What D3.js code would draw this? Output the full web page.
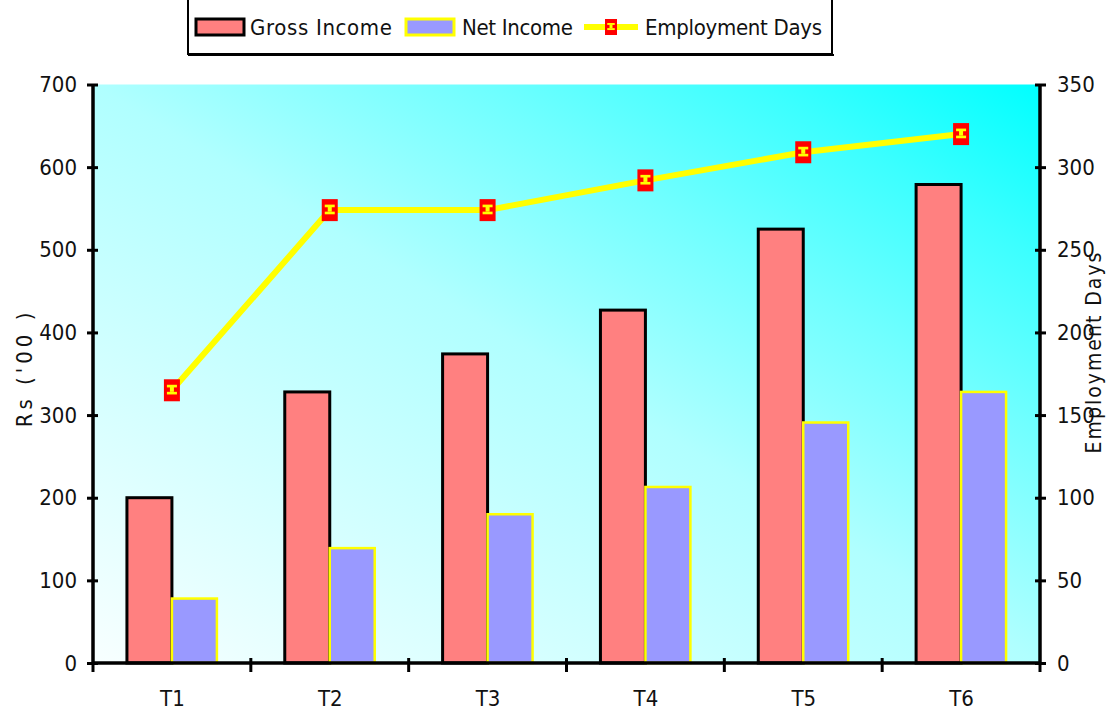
<!DOCTYPE html>
<html><head><meta charset="utf-8">
<script src="https://cdn.jsdelivr.net/npm/d3@7"></script>
<style>
html,body{margin:0;padding:0;background:#fff;}
svg{display:block;}
text{font-family:"Liberation Sans Narrow","Arial Narrow","DejaVu Sans Condensed",sans-serif;fill:#111;}
</style></head>
<body>
<svg id="chart" width="1108" height="713"></svg>
<script>
const categories = ["T1","T2","T3","T4","T5","T6"];
const grossIncome = [200, 328, 374, 427, 525, 579];
const netIncome = [78, 139, 180, 213, 291, 328];
const employmentDays = [165, 274, 274, 292, 309, 320];
const leftTicks = [0,100,200,300,400,500,600,700];
const rightTicks = [0,50,100,150,200,250,300,350];
const seriesNames = ["Gross Income","Net Income","Employment Days"];

const svg = d3.select("#chart");
const L = 93, R = 1040, T = 84.5, B = 663;

const x0 = d3.scaleBand().domain(categories).range([L, R]).paddingInner(0.43).paddingOuter(0.215);
const x1 = d3.scaleBand().domain(["gross","net"]).range([0, x0.bandwidth()]);
const xc = d3.scalePoint().domain(categories).range([L, R]).padding(0.5);
const xEdge = d3.scaleLinear().domain([0, categories.length]).range([L, R]);
const yL = d3.scaleLinear().domain([0, 700]).range([B, T]);
const yR = d3.scaleLinear().domain([0, 350]).range([B, T]);

// gradient background
const defs = svg.append("defs");
const g = defs.append("linearGradient").attr("id","bg").attr("x1",0).attr("y1",1).attr("x2",1).attr("y2",0);
[[0,"#f8ffff"],[0.5,"#b0ffff"],[0.7,"#70ffff"],[0.85,"#3cffff"],[1,"#00ffff"]].forEach(s=>g.append("stop").attr("offset",s[0]).attr("stop-color",s[1]));
svg.append("rect").attr("x",L).attr("y",T).attr("width",R-L).attr("height",B-T).attr("fill","url(#bg)");

// bars
const grp = svg.append("g").selectAll("g").data(categories).join("g")
  .attr("transform", d => `translate(${x0(d)},0)`);
grp.append("rect")
  .attr("x", x1("gross")).attr("width", x1.bandwidth())
  .attr("y", (d,i)=>yL(grossIncome[i])).attr("height",(d,i)=>B-yL(grossIncome[i]))
  .attr("fill","#ff8080").attr("stroke","#000").attr("stroke-width",3);
grp.append("rect")
  .attr("x", x1("net")).attr("width", x1.bandwidth())
  .attr("y", (d,i)=>yL(netIncome[i])).attr("height",(d,i)=>B-yL(netIncome[i]))
  .attr("fill","#9999ff").attr("stroke","#ffff00").attr("stroke-width",2.5);

// line
const line = d3.line().x((d,i)=>xc(categories[i])).y(d=>yR(d));
svg.append("path").datum(employmentDays).attr("d",line)
  .attr("fill","none").attr("stroke","#ffff00").attr("stroke-width",6);

function marker(sel, w, h){
  sel.append("rect").attr("x",-w/2).attr("y",-h/2).attr("width",w).attr("height",h).attr("fill","#ff0000");
  const s = w/16;
  sel.append("rect").attr("x",-5*s).attr("y",-h/2+h*0.25).attr("width",10*s).attr("height",h*0.12).attr("fill","#ffff00");
  sel.append("rect").attr("x",-2*s).attr("y",-h/2+h*0.35).attr("width",4*s).attr("height",h*0.22).attr("fill","#ffff00");
  sel.append("rect").attr("x",-5*s).attr("y",-h/2+h*0.57).attr("width",10*s).attr("height",h*0.12).attr("fill","#ffff00");
}
svg.append("g").selectAll("g").data(employmentDays).join("g")
  .attr("transform",(d,i)=>`translate(${xc(categories[i])},${yR(d)})`)
  .each(function(){ marker(d3.select(this),16,22); });

// axes
const axL = svg.append("g").attr("transform",`translate(${L},0)`)
  .call(d3.axisLeft(yL).tickValues(leftTicks).tickSize(5).tickFormat(d3.format("d")));
const axR = svg.append("g").attr("transform",`translate(${R},0)`)
  .call(d3.axisRight(yR).tickValues(rightTicks).tickSize(5).tickFormat(d3.format("d")));
const axB = svg.append("g").attr("transform",`translate(0,${B})`)
  .call(d3.axisBottom(xc).tickSize(0).tickPadding(0));
[axL,axR,axB].forEach(a=>{
  a.select(".domain").attr("stroke","#000").attr("stroke-width",3.5);
  a.selectAll(".tick line").attr("stroke","#000").attr("stroke-width",3);
  a.selectAll("text").attr("fill","#111").style("font-size","22px");
});
axL.select(".domain").attr("d",`M0,${T}V${B}`);
axR.select(".domain").attr("d",`M0,${T}V${B}`);
axB.select(".domain").attr("d",`M${L},0H${R}`);
axL.selectAll(".tick line").attr("x1",-6).attr("x2",5);
axR.selectAll(".tick line").attr("x1",-5).attr("x2",6);
axL.selectAll(".tick text").attr("x",-16);
axR.selectAll(".tick text").attr("x",17);
axB.selectAll(".tick text").attr("y",35).attr("dy","0.35em").style("font-size","22px");
// category boundary ticks
svg.append("g").selectAll("line").data(d3.range(categories.length+1)).join("line")
  .attr("x1",d=>xEdge(d)).attr("x2",d=>xEdge(d))
  .attr("y1",(d)=> (d===0||d===categories.length)? B : B-5).attr("y2",B+9)
  .attr("stroke","#000").attr("stroke-width",3);

// axis titles
svg.append("text").attr("transform",`translate(32,368) rotate(-90)`)
  .attr("text-anchor","middle").style("font-size","22px").style("letter-spacing","4px")
  .text("Rs ('00 )");
svg.append("text").attr("transform",`translate(1101,352) rotate(-90)`)
  .attr("text-anchor","middle").style("font-size","21px").style("letter-spacing","2px")
  .text("Employment Days");

// legend
const lg = svg.append("g");
lg.append("rect").attr("x",188).attr("y",-10).attr("width",644).attr("height",64)
  .attr("fill","#fff").attr("stroke","#000").attr("stroke-width",2);
lg.append("line").attr("x1",188).attr("x2",834).attr("y1",55).attr("y2",55).attr("stroke","#000").attr("stroke-width",2);
lg.append("rect").attr("x",196).attr("y",19).attr("width",48).attr("height",16)
  .attr("fill","#ff8080").attr("stroke","#000").attr("stroke-width",3);
lg.append("rect").attr("x",406).attr("y",19).attr("width",48).attr("height",16)
  .attr("fill","#9999ff").attr("stroke","#ffff00").attr("stroke-width",3);
lg.append("line").attr("x1",584).attr("x2",638).attr("y1",27).attr("y2",27).attr("stroke","#ffff00").attr("stroke-width",6);
marker(lg.append("g").attr("transform","translate(611,27)"),12,16);
const legendPos = [[250,142],[462,111],[645,177]];
lg.selectAll("text.leg").data(seriesNames).join("text").attr("class","leg")
  .attr("x",(d,i)=>legendPos[i][0]).attr("y",27).attr("dy","0.35em")
  .attr("textLength",(d,i)=>legendPos[i][1]).attr("lengthAdjust","spacing")
  .style("font-size","22px").text(d=>d);
</script>
</body></html>
